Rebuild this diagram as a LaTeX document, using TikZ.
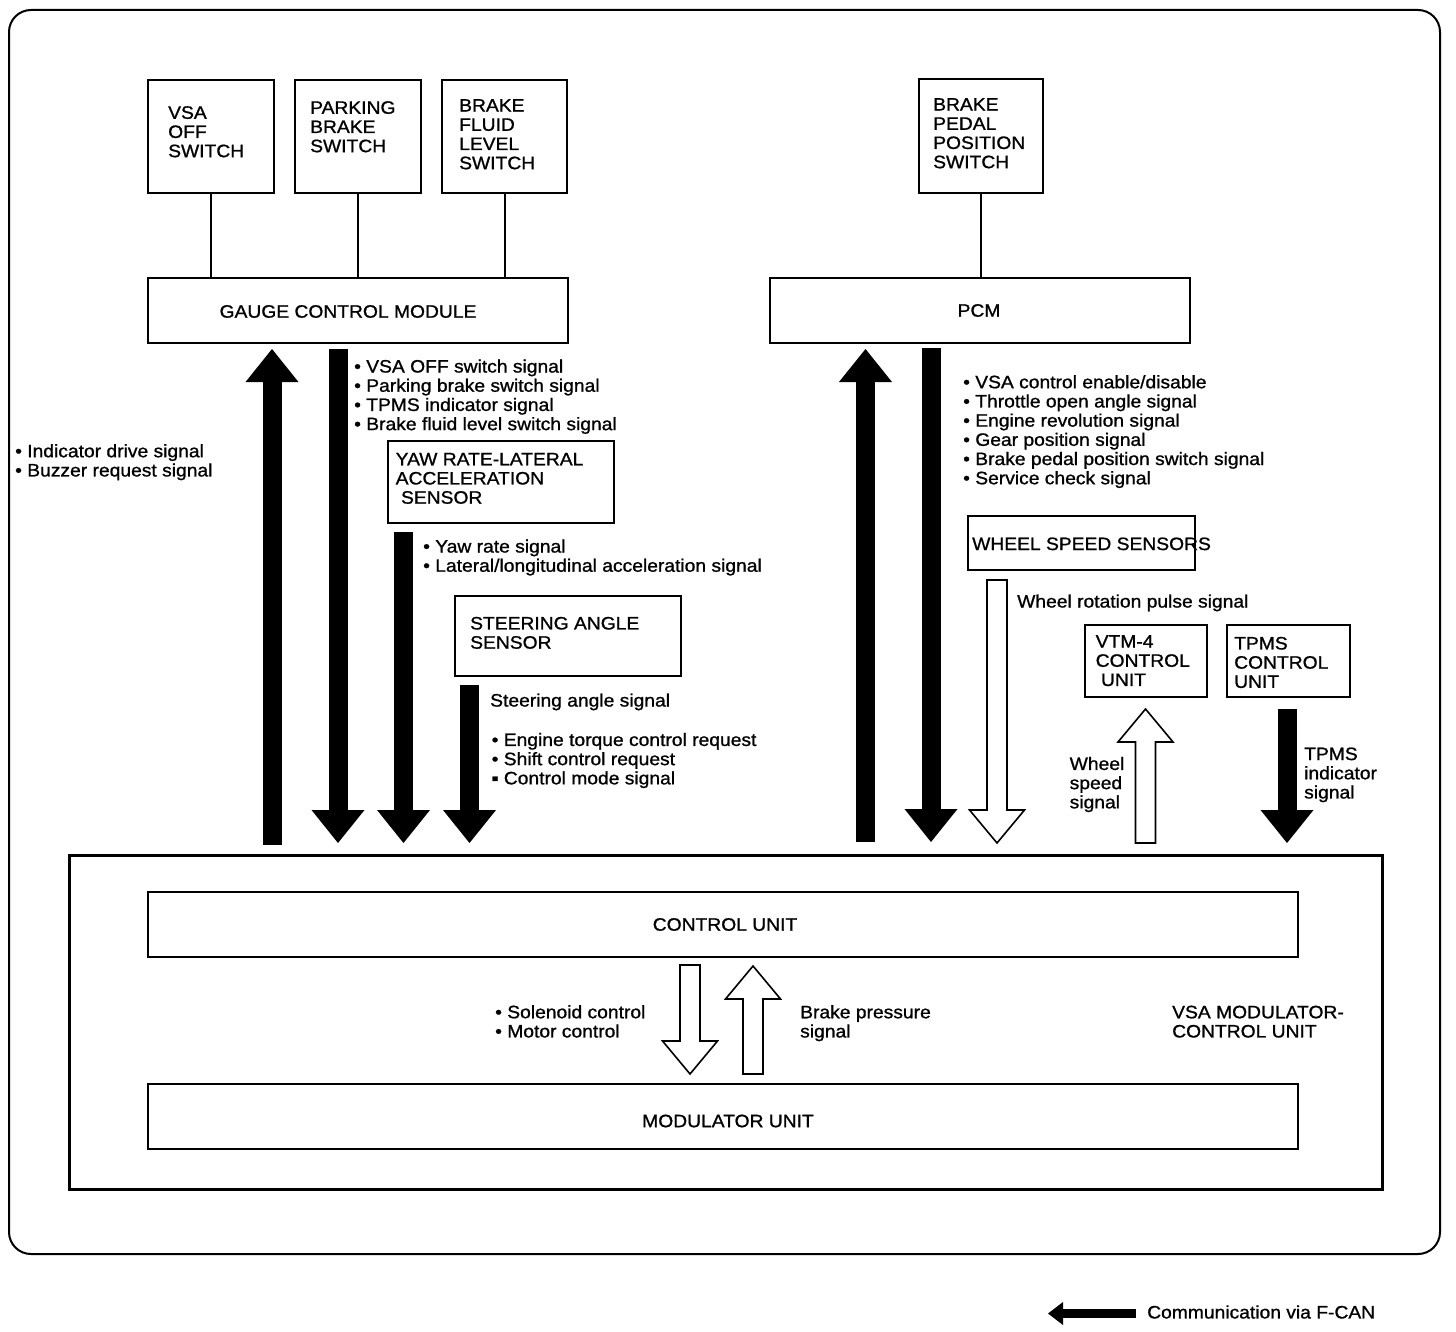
\documentclass[tikz,border=0pt]{standalone}
\usepackage{fontspec}
\setmainfont{Liberation Sans}[FakeStretch=1.07, FakeBold=1]
\usetikzlibrary{arrows.meta}
\usetikzlibrary{calc}
\tikzset{
    unit box/.style={
        draw,
        line width=2pt,
        inner sep=0pt,
        anchor=north west
    },
    label text/.style={
        inner sep=0pt,
        anchor=north west,
        align=left,
        font=\fontsize{18}{19.2}\selectfont
    },
    can arrow/.style={
        line width=19pt,
        -{Triangle[length=33pt, width=53pt, line width=0pt]}
    },
    legend arrow/.style={
        line width=9pt,
        -{Triangle[length=15pt, width=23pt, line width=0pt]}
    },
    wire arrow/.style={
        draw,
        fill=white,
        line width=1.6pt,
        to path={let \p1=(\tikztostart), \p2=(\tikztotarget),
            \p3=($(\tikztotarget)!33pt!(\tikztostart)$) in
            (\x1-10pt,\y1) -- (\x1-10pt,\y3) -- (\x1-27.5pt,\y3) -- (\x2,\y2)
            -- (\x1+27.5pt,\y3) -- (\x1+10pt,\y3) -- (\x1+10pt,\y1) -- cycle}
    }
}

\begin{document}
\begin{tikzpicture}[x=1pt, y=-1pt]
    \path[fill=white] (0,0) rectangle (1456,1332);
    \useasboundingbox (0,0) rectangle (1456,1332);
    \draw[line width=2pt, rounded corners=22pt] (9,10) rectangle (1440,1254);

    \node[unit box, minimum width=126pt, minimum height=113pt] (vsaoff) at (147,79) {};
    \node[unit box, minimum width=126pt, minimum height=113pt] (pkb) at (294,79) {};
    \node[unit box, minimum width=125pt, minimum height=113pt] (bfl) at (441,79) {};
    \node[unit box, minimum width=124pt, minimum height=114pt] (bpp) at (918,78) {};
    \node[unit box, minimum width=420pt, minimum height=65pt] (gcm) at (147,277) {};
    \node[unit box, minimum width=420pt, minimum height=65pt] (pcm) at (769,277) {};
    \node[unit box, minimum width=226pt, minimum height=82pt] (yaw) at (387,440) {};
    \node[unit box, minimum width=226pt, minimum height=80pt] (steer) at (454,595) {};
    \node[unit box, minimum width=227pt, minimum height=54pt] (wss) at (967,515) {};
    \node[unit box, minimum width=122pt, minimum height=72pt] (vtm) at (1084,624) {};
    \node[unit box, minimum width=123pt, minimum height=72pt] (tpms) at (1226,624) {};
    \node[unit box, line width=3pt, minimum width=1313pt, minimum height=334pt] (vsamod) at (68,854) {};
    \node[unit box, minimum width=1150pt, minimum height=65pt] (cu) at (147,891) {};
    \node[unit box, minimum width=1150pt, minimum height=65pt] (mu) at (147,1083) {};

    \node[label text] (vsaofft) at (168,106) {VSA\\OFF\\SWITCH};
    \node[label text] (pkbt) at (310,101) {PARKING\\BRAKE\\SWITCH};
    \node[label text] (bflt) at (459,99) {BRAKE\\FLUID\\LEVEL\\SWITCH};
    \node[label text] (bppt) at (933,98) {BRAKE\\PEDAL\\POSITION\\SWITCH};
    \node[label text, anchor=center] (gcmt) at (348,311.5) {GAUGE CONTROL MODULE};
    \node[label text, anchor=center] (pcmt) at (979,310.5) {PCM};
    \node[label text] (yawt) at (395.5,452.7) {YAW RATE-LATERAL\\ACCELERATION\\\ SENSOR};
    \node[label text] (steert) at (470,616.7) {STEERING ANGLE\\SENSOR};
    \node[label text] (wsst) at (972,537.3) {WHEEL SPEED SENSORS};
    \node[label text] (vtmt) at (1095.5,635) {VTM-4\\CONTROL\\\ UNIT};
    \node[label text] (tpmst) at (1234,636.7) {TPMS\\CONTROL\\UNIT};
    \node[label text, anchor=center] (cut) at (725,924.5) {CONTROL UNIT};
    \node[label text, anchor=center] (mut) at (728,1121) {MODULATOR UNIT};
    \node[label text] (vsamodt) at (1172,1005.5) {VSA MODULATOR-\\CONTROL UNIT};

    \node[label text] (gcmin) at (15,444) {• Indicator drive signal\\• Buzzer request signal};
    \node[label text] (gcmout) at (354,359.3) {• VSA OFF switch signal\\• Parking brake switch signal\\• TPMS indicator signal\\• Brake fluid level switch signal};
    \node[label text] (yawout) at (423,539.3) {• Yaw rate signal\\• Lateral/longitudinal acceleration signal};
    \node[label text] (steerout) at (490,693.3) {Steering angle signal};
    \node[label text] (pcmin) at (491.5,732.7) {• Engine torque control request\\• Shift control request\\▪ Control mode signal};
    \node[label text] (pcmout) at (963,375) {• VSA control enable/disable\\• Throttle open angle signal\\• Engine revolution signal\\• Gear position signal\\• Brake pedal position switch signal\\• Service check signal};
    \node[label text] (wssout) at (1017,594.3) {Wheel rotation pulse signal};
    \node[label text] (vtmin) at (1069.5,756.7) {Wheel\\speed\\signal};
    \node[label text] (tpmsout) at (1304,747.3) {TPMS\\indicator\\signal};
    \node[label text] (muin) at (495,1005) {• Solenoid control\\• Motor control};
    \node[label text] (muout) at (800,1005) {Brake pressure\\signal};
    \node[label text, anchor=west] (fcan) at (1147,1312) {Communication via F-CAN};

    \draw[line width=2pt] (vsaoff.south) -- (vsaoff.south |- gcm.north);
    \draw[line width=2pt] (pkb.south) -- (pkb.south |- gcm.north);
    \draw[line width=2pt] (bfl.south) -- (bfl.south |- gcm.north);
    \draw[line width=2pt] (bpp.south) -- (bpp.south |- pcm.north);

    \draw[can arrow] ($(vsamod.north -| 272,0)+(0,-9)$) -- ($(gcm.south -| 272,0)+(0,5)$);
    \draw[can arrow] ($(gcm.south -| 338,0)+(0,5)$) -- ($(vsamod.north -| 338,0)+(0,-11)$);
    \draw[can arrow] ($(yaw.south -| 403.5,0)+(0,8)$) -- ($(vsamod.north -| 403.5,0)+(0,-11)$);
    \draw[can arrow] ($(steer.south -| 469.5,0)+(0,8)$) -- ($(vsamod.north -| 469.5,0)+(0,-11)$);
    \draw[can arrow] ($(vsamod.north -| 865.5,0)+(0,-12)$) -- ($(pcm.south -| 865.5,0)+(0,5)$);
    \draw[can arrow] ($(pcm.south -| 931,0)+(0,4)$) -- ($(vsamod.north -| 931,0)+(0,-12)$);
    \draw[can arrow] ($(tpms.south -| 1287,0)+(0,11)$) -- ($(vsamod.north -| 1287,0)+(0,-11)$);

    \coordinate (wsstail) at ($(wss.south -| 997,0)+(0,9)$);
    \coordinate (wsstip) at ($(vsamod.north -| 997,0)+(0,-11)$);
    \coordinate (vtmtail) at ($(vsamod.north -| 1145.5,0)+(0,-11)$);
    \coordinate (vtmtip) at ($(vtm.south -| 1145.5,0)+(0,11)$);
    \coordinate (soltail) at ($(cu.south -| 690,0)+(0,7)$);
    \coordinate (soltip) at ($(mu.north -| 690,0)+(0,-9)$);
    \coordinate (bprtail) at ($(mu.north -| 753,0)+(0,-9)$);
    \coordinate (bprtip) at ($(cu.south -| 753,0)+(0,8)$);
    \draw[wire arrow] (wsstail) to (wsstip);
    \draw[wire arrow] (vtmtail) to (vtmtip);
    \draw[wire arrow] (soltail) to (soltip);
    \draw[wire arrow] (bprtail) to (bprtip);

    \coordinate (fcantip) at (1048,1313.5);
    \draw[legend arrow] ($(fcan.west)+(-11,1.5)$) -- (fcantip);
\end{tikzpicture}
\end{document}
